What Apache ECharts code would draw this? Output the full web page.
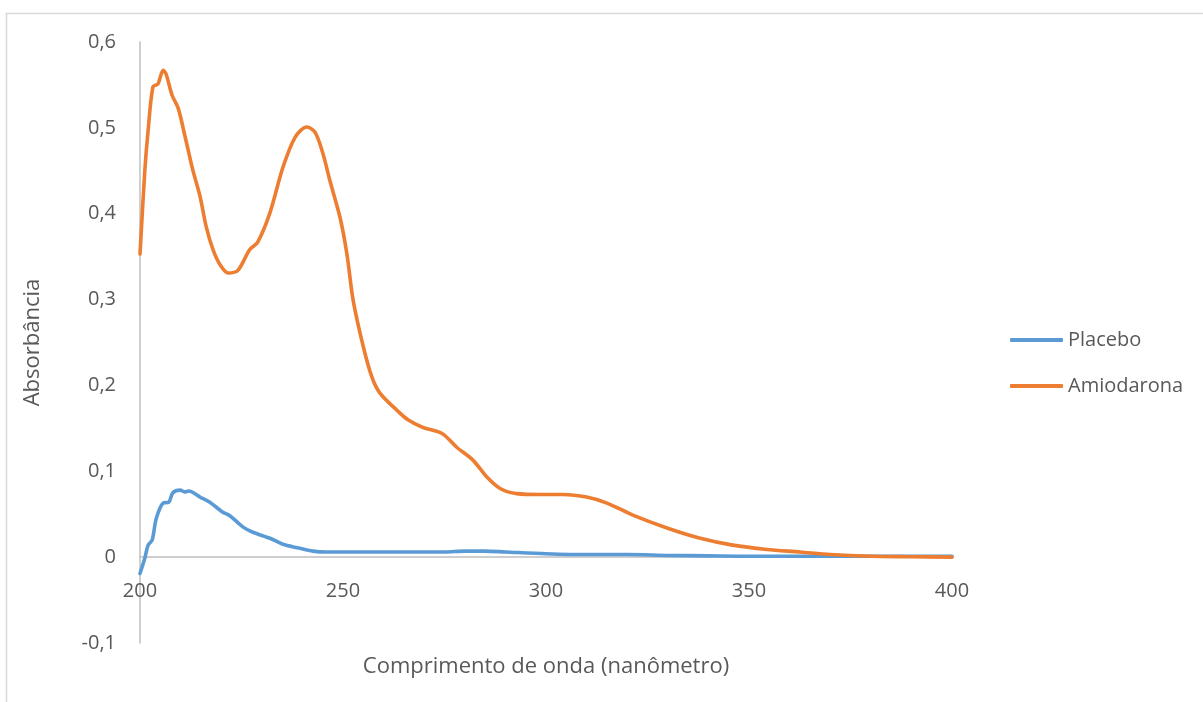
<!DOCTYPE html>
<html>
<head>
<meta charset="utf-8">
<script src="https://cdn.jsdelivr.net/npm/echarts@6/dist/echarts.min.js"></script>
<style>
  html, body { margin: 0; padding: 0; background: #ffffff; }
  #chart { width: 1203px; height: 702px; }
</style>
</head>
<body>
<div id="chart"></div>
<script>
// UV absorption spectra (absorbance vs wavelength)
const seriesNames = ['Placebo', 'Amiodarona'];
const xTicks = [200, 250, 300, 350, 400];
const yTicks = [-0.1, 0, 0.1, 0.2, 0.3, 0.4, 0.5, 0.6];

const placeboNm = [200, 201.2, 202, 203, 204, 205.7, 207.1, 208.1, 209.9, 211, 212, 214.8, 217.2, 220.2,
  222.2, 225.4, 227.8, 232, 235.2, 238.7, 242.6, 246, 255, 265, 275, 280, 285, 290, 300, 310, 320, 330,
  340, 350, 360, 370, 380, 390, 400];
const placeboAbs = [-0.019, -0.001, 0.014, 0.020, 0.045, 0.063, 0.064, 0.075, 0.078, 0.076, 0.077, 0.070,
  0.064, 0.053, 0.048, 0.035, 0.029, 0.022, 0.015, 0.011, 0.007, 0.006, 0.006, 0.006, 0.006, 0.007, 0.007,
  0.006, 0.004, 0.003, 0.003, 0.002, 0.0015, 0.001, 0.001, 0.001, 0.001, 0.001, 0.001];

const amioNm = [200, 201.2, 202, 203.2, 204.4, 205.7, 206.4, 207.9, 209.4, 211, 213, 214.8, 216.3, 218,
  219.8, 221.7, 224.1, 227, 229, 232, 235.2, 238.2, 241.1, 243.1, 245, 246.8, 249.3, 251, 252.5, 255, 257.1,
  259.1, 263.3, 266, 269.7, 274.4, 278, 282, 285.5, 288.7, 292.8, 298.5, 304.2, 310, 315, 321.4, 329.8,
  338, 346, 354.4, 362.6, 370, 380, 390, 400];
const amioAbs = [0.353, 0.451, 0.497, 0.548, 0.551, 0.567, 0.563, 0.538, 0.523, 0.492, 0.451, 0.420,
  0.385, 0.358, 0.340, 0.331, 0.334, 0.358, 0.367, 0.401, 0.454, 0.489, 0.501, 0.495, 0.471, 0.438, 0.395,
  0.352, 0.299, 0.245, 0.210, 0.191, 0.171, 0.160, 0.151, 0.144, 0.128, 0.113, 0.093, 0.080, 0.074, 0.073,
  0.073, 0.070, 0.063, 0.049, 0.034, 0.022, 0.014, 0.009, 0.006, 0.003, 0.001, 0.0005, 0.0];

const pairs = (xs, ys) => xs.map((x, i) => [x, ys[i]]);

const font = '"Open Sans", Lato, sans-serif';
const textColor = '#595959';
const axisColor = '#bfbfbf';

const chart = echarts.init(document.getElementById('chart'));
chart.setOption({
  animation: false,
  backgroundColor: '#ffffff',
  textStyle: { fontFamily: font },
  graphic: [{
    type: 'rect',
    shape: { x: 6.5, y: 13.5, width: 1300, height: 800 },
    style: { fill: 'none', stroke: '#d9d9d9', lineWidth: 1.5 },
    silent: true
  }],
  grid: { left: 140, top: 42, width: 812, height: 601, containLabel: false, outerBoundsMode: 'none' },
  legend: {
    orient: 'vertical',
    left: 1005,
    top: 325,
    icon: 'roundRect',
    itemWidth: 53,
    itemHeight: 4,
    itemGap: 26,
    data: seriesNames,
    textStyle: { color: textColor, fontSize: 20, fontFamily: font }
  },
  xAxis: {
    type: 'value',
    min: xTicks[0],
    max: xTicks[xTicks.length - 1],
    interval: 50,
    name: 'Comprimento de onda (nanômetro)',
    nameLocation: 'middle',
    nameGap: 13,
    nameTextStyle: { color: textColor, fontSize: 22, fontFamily: font },
    axisLine: { onZero: true, lineStyle: { color: axisColor, width: 1.5 } },
    axisTick: { show: false },
    splitLine: { show: false },
    axisLabel: { color: textColor, fontSize: 20, margin: -62, fontFamily: font }
  },
  yAxis: {
    type: 'value',
    min: yTicks[0],
    max: yTicks[yTicks.length - 1],
    interval: 0.1,
    name: 'Absorbância',
    nameLocation: 'middle',
    nameGap: 96,
    nameTextStyle: { color: textColor, fontSize: 22, fontFamily: font },
    axisLine: { show: true, onZero: false, lineStyle: { color: axisColor, width: 1.5 } },
    axisTick: { show: false },
    splitLine: { show: false },
    axisLabel: {
      color: textColor, fontSize: 20, margin: 24, fontFamily: font,
      formatter: v => {
        const r = Math.round(v * 10) / 10;
        return r === 0 ? '0' : r.toFixed(1).replace('.', ',');
      }
    }
  },
  series: [
    {
      name: seriesNames[0],
      type: 'line',
      data: pairs(placeboNm, placeboAbs),
      symbol: 'none',
      smooth: 0.3,
      lineStyle: { color: '#5B9BD5', width: 3.6, cap: 'round', join: 'round' },
      itemStyle: { color: '#5B9BD5' }
    },
    {
      name: seriesNames[1],
      type: 'line',
      data: pairs(amioNm, amioAbs),
      symbol: 'none',
      smooth: 0.3,
      lineStyle: { color: '#ED7D31', width: 3.6, cap: 'round', join: 'round' },
      itemStyle: { color: '#ED7D31' }
    }
  ]
});
</script>
</body>
</html>
